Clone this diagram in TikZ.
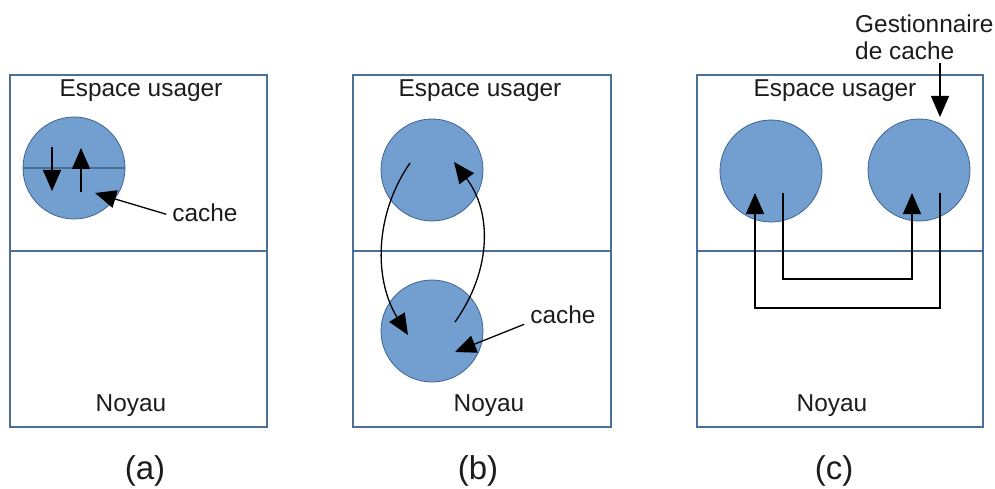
\documentclass[tikz,border=0pt]{standalone}
\usepackage{fontspec}
\setmainfont{Liberation Sans}
\usetikzlibrary{arrows.meta,calc}
\definecolor{boxline}{RGB}{74,112,150}
\definecolor{cachefill}{RGB}{114,159,207}
\definecolor{cacheedge}{RGB}{62,100,150}
\definecolor{txt}{RGB}{28,28,28}

\tikzset{
  headtip/.tip={Triangle[length=21pt,width=18pt]}
}

\begin{document}
\begin{tikzpicture}[x=1pt,y=-1pt,
  panel/.style={draw=boxline,line width=1.1pt},
  cachecirc/.style={circle,fill=cachefill,draw=cacheedge,line width=0.8pt,
                    minimum size=102pt,inner sep=0pt},
  lbl/.style={font=\fontsize{24.4}{29}\selectfont,text=txt,inner sep=0pt,anchor=base},
  subcaption/.style={font=\fontsize{33}{39}\selectfont,text=txt,inner sep=0pt,anchor=base},
  flow/.style={draw=black,line width=1.3pt,-headtip}
]
\useasboundingbox (0,0) rectangle (995,489);
\fill[white] (0,0) rectangle (995,489);

% ---- frames: user space above, kernel below ----
\draw[panel] (10,75) rectangle (267,427);
\draw[panel] (10,251) -- (267,251);
\draw[panel] (353,75) rectangle (611,427);
\draw[panel] (353,251) -- (611,251);
\draw[panel] (697,75) rectangle (983,427);
\draw[panel] (697,251) -- (983,251);

% ---- (a) cache shared across the boundary ----
\node[lbl] (ua) at (141,97) {Espace usager};
\node[lbl] (na) at (131,411) {Noyau};
\node[subcaption] (capa) at (145,479) {(a)};
\node[cachecirc] (ca) at (74,168) {};
\draw[boxline,line width=1.1pt] (ca.west) -- (ca.east);
\coordinate (a1s) at ($(ca)+(-22,-21)$);
\coordinate (a1e) at ($(ca)+(-22,23)$);
\coordinate (a2s) at ($(ca)+(7,24)$);
\coordinate (a2e) at ($(ca)+(7,-20)$);
\draw[flow] (a1s) -- (a1e);
\draw[flow] (a2s) -- (a2e);
\node[lbl] (lca) at (205,222) {cache};
\draw[flow] ($(lca.west)+(-6,1)$) -- ($(ca)+(21,25)$);

% ---- (b) one cache in each space ----
\node[lbl] (ub) at (480,97) {Espace usager};
\node[lbl] (nb) at (489,411) {Noyau};
\node[subcaption] (capb) at (478,479) {(b)};
\node[cachecirc] (cb1) at (432,170) {};
\node[cachecirc] (cb2) at (432,331) {};
\draw[flow] ($(cb1)+(-22,-7)$) .. controls (374,215) and (374,280) .. ($(cb2)+(-24,4)$);
\draw[flow] ($(cb2)+(23,-9)$) .. controls (492,270) and (492,212) .. ($(cb1)+(22,-8)$);
\node[lbl] (lcb) at (563,323) {cache};
\draw[flow] ($(lcb.west)+(-6,10)$) -- ($(cb2)+(23,21)$);

% ---- (c) two caches in user space, exchange through the kernel ----
\node[lbl] (uc) at (835,97) {Espace usager};
\node[lbl] (nc) at (832,411) {Noyau};
\node[subcaption] (capc) at (834,479) {(c)};
\node[cachecirc] (cc1) at (771,171) {};
\node[cachecirc] (cc2) at (919,170) {};
\coordinate (c1out) at ($(cc1)+(12,22)$);
\coordinate (c1in)  at ($(cc1)+(-16,22)$);
\coordinate (c2out) at ($(cc2)+(21,23)$);
\coordinate (c2in)  at ($(cc2)+(-7,23)$);
\draw[flow] (c1out) -- ++(0,86) -| (c2in);
\draw[flow] (c2out) -- ++(0,115) -| (c1in);
\node[lbl,anchor=base west] (g1) at (855,33) {Gestionnaire};
\node[lbl,anchor=base west] (g2) at (855,60) {de cache};
\draw[flow] ($(g2.south west)+(85,3)$) -- ($(cc2)+(21,-53)$);
\end{tikzpicture}
\end{document}
